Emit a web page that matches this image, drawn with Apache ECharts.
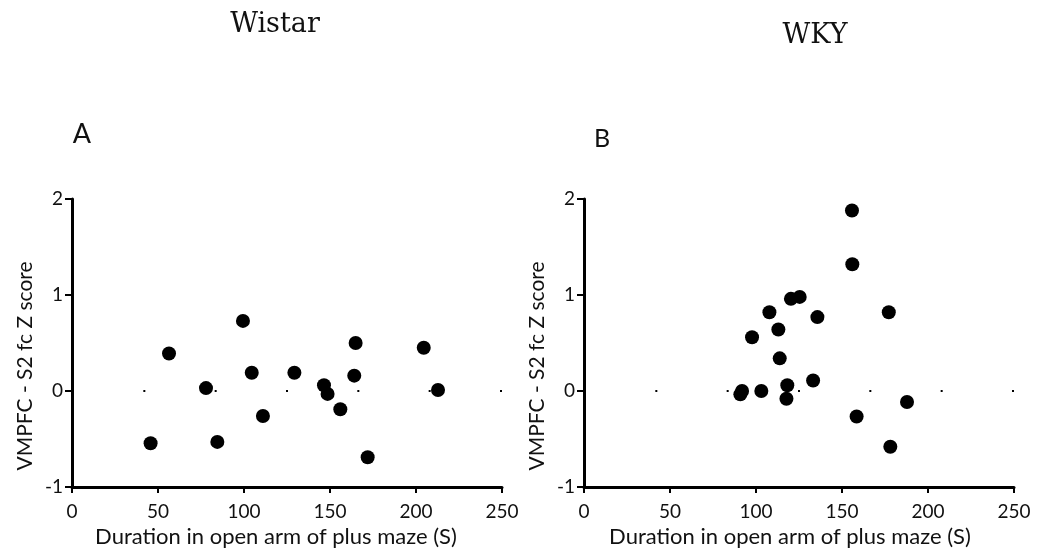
<!DOCTYPE html>
<html>
<head>
<meta charset="utf-8">
<script src="https://cdn.jsdelivr.net/npm/echarts@6/dist/echarts.min.js"></script>
<style>
  html, body { margin: 0; padding: 0; background: #fff; }
  #chart { width: 1041px; height: 558px; }
</style>
</head>
<body>
<div id="chart"></div>
<script>
// Wistar rats: time in open arm (s) vs VMPFC - S2 functional connectivity (Z)
const wistarDuration = [45.7, 56.4, 77.9, 84.5, 99.4, 104.5, 111.0, 129.3, 146.5, 148.6, 156.0, 164.1, 164.9, 171.9, 204.5, 212.8];
const wistarZ        = [-0.545, 0.39, 0.03, -0.53, 0.73, 0.19, -0.26, 0.19, 0.06, -0.03, -0.19, 0.16, 0.50, -0.69, 0.45, 0.01];

// WKY rats
const wkyDuration = [155.8, 156.0, 120.3, 125.4, 107.8, 135.7, 177.2, 113.0, 97.7, 113.8, 133.2, 118.2, 91.9, 90.9, 103.1, 117.7, 187.8, 158.5, 178.1];
const wkyZ        = [1.88, 1.32, 0.96, 0.98, 0.82, 0.77, 0.82, 0.64, 0.56, 0.34, 0.11, 0.06, 0.00, -0.035, 0.00, -0.08, -0.115, -0.265, -0.58];

const xTicks = { min: 0, max: 250, interval: 50 };
const yTicks = { min: -1, max: 2, interval: 1 };
const groupTitles = ['Wistar', 'WKY'];
const panelLetters = ['A', 'B'];
const xName = 'Duration in open arm of plus maze (S)';
const yName = 'VMPFC - S2 fc Z score';

const GRID_W = 430;
const sansFont = 'Lato, "Open Sans", sans-serif';

function pairs(xs, ys) { return xs.map((x, i) => [x, ys[i]]); }

function xAxisFor(idx, shift) {
  return {
    gridIndex: idx, type: 'value', min: xTicks.min, max: xTicks.max, interval: xTicks.interval,
    name: xName, nameLocation: 'middle', nameGap: 35,
    nameTextStyle: { color: '#111', fontSize: 22, fontFamily: sansFont, padding: [0, shift, 0, 0] },
    axisLine: { show: true, onZero: false, lineStyle: { color: '#000', width: 3 } },
    axisTick: { show: true, length: 6, lineStyle: { color: '#000', width: 2 } },
    axisLabel: { color: '#111', fontSize: 19, fontFamily: sansFont, margin: 15 },
    splitLine: { show: false }
  };
}
function yAxisFor(idx) {
  return {
    gridIndex: idx, type: 'value', min: yTicks.min, max: yTicks.max, interval: yTicks.interval,
    name: yName, nameLocation: 'middle', nameGap: 36,
    nameTextStyle: { color: '#111', fontSize: 21, fontFamily: sansFont, padding: [0, 46, 0, 0] },
    axisLine: { show: true, onZero: false, lineStyle: { color: '#000', width: 3 } },
    axisTick: { show: true, length: 7, lineStyle: { color: '#000', width: 2 } },
    axisLabel: { color: '#111', fontSize: 19, fontFamily: sansFont, margin: 9 },
    splitLine: { show: false }
  };
}
function scatterFor(idx, data) {
  // dotted zero line: 2px dots, first on the y axis and last at the far end
  const gap = (GRID_W - 2) / 6 - 2;
  return {
    type: 'scatter', xAxisIndex: idx, yAxisIndex: idx, data: data,
    symbol: 'circle', symbolSize: 14, itemStyle: { color: '#000', opacity: 1 },
    markLine: {
      silent: true, symbol: 'none', label: { show: false },
      lineStyle: { color: '#000', width: 2, type: [2, gap], opacity: 1 },
      emphasis: { disabled: true },
      data: [{ yAxis: 0 }]
    }
  };
}

const chart = echarts.init(document.getElementById('chart'), null, { renderer: 'canvas' });
chart.setOption({
  animation: false,
  backgroundColor: '#fff',
  grid: [
    { left: 72, top: 199, width: GRID_W, height: 288 },
    { left: 584, top: 199, width: GRID_W, height: 288 }
  ],
  xAxis: [xAxisFor(0, 22), xAxisFor(1, 18)],
  yAxis: [yAxisFor(0), yAxisFor(1)],
  series: [
    scatterFor(0, pairs(wistarDuration, wistarZ)),
    scatterFor(1, pairs(wkyDuration, wkyZ))
  ],
  graphic: [
    { type: 'text', x: 275, y: 25, style: { text: groupTitles[0], fill: '#111', font: '27px "DejaVu Serif", serif', align: 'center', verticalAlign: 'middle' } },
    { type: 'text', x: 815, y: 36, style: { text: groupTitles[1], fill: '#111', font: '27px "DejaVu Serif", serif', align: 'center', verticalAlign: 'middle' } },
    { type: 'text', x: 82, y: 134, style: { text: panelLetters[0], fill: '#111', font: '27px ' + sansFont, align: 'center', verticalAlign: 'middle' } },
    { type: 'text', x: 602, y: 139, style: { text: panelLetters[1], fill: '#111', font: '25px ' + sansFont, align: 'center', verticalAlign: 'middle' } }
  ]
});
</script>
</body>
</html>
